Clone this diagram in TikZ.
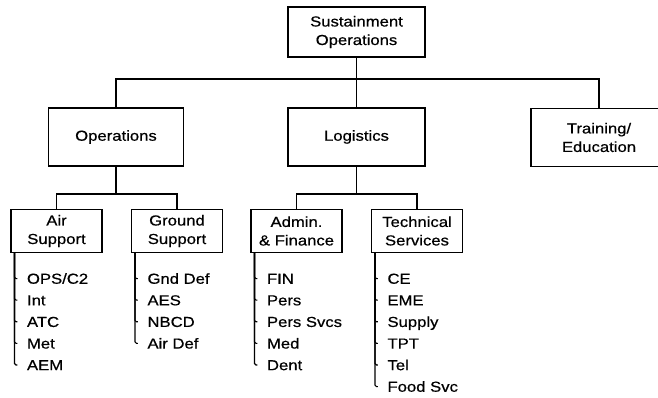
\documentclass[tikz,border=0pt]{standalone}
\usepackage{fontspec}
\setmainfont{Liberation Sans}[FakeStretch=1.15,FakeBold=0.6]
\usetikzlibrary{calc}
\tikzset{
  orgbox/.style={draw,line width=1.1pt,align=center,inner sep=0pt},
  subbox/.style={orgbox,minimum width=91pt,minimum height=43pt},
  listitem/.style={anchor=west,inner sep=0pt,text height=10.4pt,text depth=0pt}
}
% items hung below a box: #1 box name, #2 entries
\newcommand{\ItemList}[2]{%
  \foreach \lbl [count=\i] in {#2} {
    \node[listitem] (#1\i) at ($(#1.south west)+(16,{25.5+21.6*(\i-1)})$) {\lbl};
    \draw[rounded corners=1.5pt] ([xshift=4pt]#1.south west) |- ([xshift=-9pt]#1\i.west);
  }}

\begin{document}
\begin{tikzpicture}[x=1pt,y=-1pt,line width=1.1pt,font=\fontsize{14.5}{18.5}\selectfont]
  \useasboundingbox (0,0) rectangle (658,398);
  % top levels
  \node[orgbox,minimum width=137pt,minimum height=50pt] (sust) at (356.5,32) {Sustainment\\Operations};
  \node[orgbox,minimum width=135pt,minimum height=58pt] (ops) at (116,137) {Operations};
  \node[orgbox,minimum width=137pt,minimum height=58pt] (logi) at (356.5,137) {Logistics};
  \node[orgbox,minimum width=136pt,minimum height=58pt] (train) at (599,137.5) {Training/\\Education};
  \coordinate (topbus) at (356.5,79);
  \draw (sust) -- (topbus);
  \draw (topbus) -| (ops);
  \draw (topbus) -- (logi);
  \draw (topbus) -| (train);

  % branches
  \node[subbox] (air) at (56.5,231) {Air\\Support};
  \node[subbox] (gnd) at (177,231) {Ground\\Support};
  \node[subbox] (adm) at (296.5,231) {Admin.\\\& Finance};
  \node[subbox] (tech) at (417,231) {Technical\\Services};
  \coordinate (opsbus) at (116,194);
  \coordinate (logbus) at (356.5,194);
  \draw (ops) -- (opsbus);
  \draw (opsbus) -| (air);
  \draw (opsbus) -| (gnd);
  \draw (logi) -- (logbus);
  \draw (logbus) -| (adm);
  \draw (logbus) -| (tech);

  % sections
  \ItemList{air}{OPS/C2,Int,ATC,Met,AEM}
  \ItemList{gnd}{Gnd Def,AES,NBCD,Air Def}
  \ItemList{adm}{FIN,Pers,Pers Svcs,Med,Dent}
  \ItemList{tech}{CE,EME,Supply,TPT,Tel,Food Svc}
\end{tikzpicture}
\end{document}
